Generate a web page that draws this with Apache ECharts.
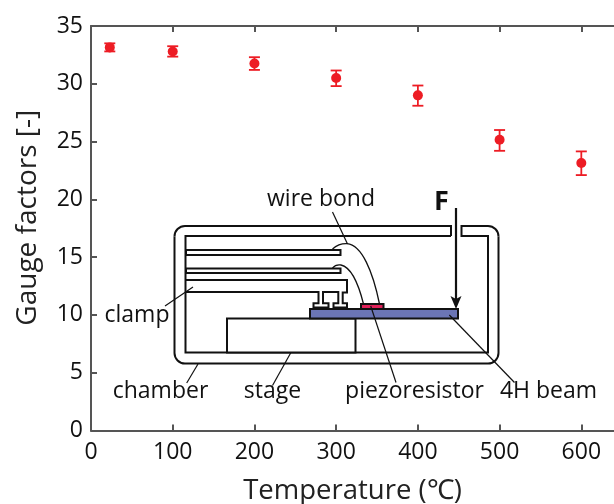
<!DOCTYPE html>
<html><head><meta charset="utf-8">
<style>html,body{margin:0;padding:0;background:#fff}#c{width:614px;height:504px}</style>
<script src="https://cdn.jsdelivr.net/npm/echarts@6/dist/echarts.min.js"></script>
</head><body><div id="c"></div>
<script>
const temperature = [23, 100, 200, 300, 400, 500, 600];
const gaugeFactor = [33.15, 32.8, 31.75, 30.5, 29.0, 25.15, 23.15];
const errorLow = [32.8, 32.35, 31.2, 29.8, 28.1, 24.2, 22.1];
const errorHigh = [33.5, 33.25, 32.3, 31.15, 29.85, 26.0, 24.15];
const xTicks = [0, 100, 200, 300, 400, 500, 600];
const yTicks = [0, 5, 10, 15, 20, 25, 30, 35];
const FONT = '"Open Sans"';
const RED = '#ed1c24', AXIS = '#555', INK = '#111';

const chart = echarts.init(document.getElementById('c'), null, {renderer: 'canvas'});
const axisLine = {show: true, onZero: false, lineStyle: {color: AXIS, width: 2}};
const inTick = {show: true, inside: true, length: 6, lineStyle: {color: AXIS, width: 2}, customValues: xTicks};

function line(pts, w, col) {
  return {type: 'polyline', z: 10, shape: {points: pts}, style: {fill: null, stroke: col || INK, lineWidth: w || 2}};
}
function box(x1, y1, x2, y2, fill, w) {
  return {type: 'rect', z: 11, shape: {x: x1, y: y1, width: x2 - x1, height: y2 - y1}, style: {fill: fill || '#fff', stroke: INK, lineWidth: w || 2}};
}
function bez(x1, y1, c1x, c1y, c2x, c2y, x2, y2, w) {
  return {type: 'bezierCurve', z: 10, shape: {x1, y1, x2, y2, cpx1: c1x, cpy1: c1y, cpx2: c2x, cpy2: c2y}, style: {fill: null, stroke: INK, lineWidth: w || 1.3}};
}
function corner(cx, cy, start) {
  return {type: 'arc', z: 10, shape: {cx, cy, r: 10.5, startAngle: start, endAngle: start + Math.PI / 2, clockwise: true}, style: {fill: null, stroke: INK, lineWidth: 2}};
}
function label(t, x, y, size, weight) {
  return {type: 'text', z: 12, x: x, y: y, style: {text: t, font: (weight || 'normal') + ' ' + (size || 23) + 'px ' + FONT, fill: INK, align: 'center', verticalAlign: 'middle'}};
}
const diagramParts = [
  // chamber walls
  line([[451, 236], [451, 226], [185, 226]], 2),
  corner(185, 236.5, Math.PI),
  line([[174.5, 236.5], [174.5, 353]], 2),
  corner(185, 353, Math.PI / 2),
  line([[185, 363.5], [488, 363.5]], 2),
  corner(488, 353, 0),
  line([[498.5, 353], [498.5, 236.5]], 2),
  corner(488, 236.5, -Math.PI / 2),
  line([[488, 226], [461.5, 226], [461.5, 236], [488, 236], [488, 352.5], [185.5, 352.5], [185.5, 236], [451, 236]], 2),
  // clamp fingers
  box(186, 250, 340.5, 255, '#fff', 2),
  box(186, 268.5, 340.5, 273, '#fff', 2),
  line([[186, 280], [347, 280], [347, 292.5], [342.7, 292.5], [342.7, 303.3], [347, 303.3], [347, 307.5], [333.5, 307.5], [333.5, 303.3], [338.3, 303.3], [338.3, 292], [323, 292], [323, 303.3], [328.5, 303.3], [328.5, 307.5], [313.5, 307.5], [313.5, 303.3], [318.5, 303.3], [318.5, 292], [186, 292]], 2),
  // stage, beam, piezoresistor
  box(227, 318.5, 355.5, 352.5, '#fff', 2),
  box(310, 309, 458, 318.5, '#6b75b5', 2),
  box(361, 304, 383.5, 309, '#e0225a', 2),
  // wire bonds
  bez(332.5, 249, 337, 245, 342, 243.5, 347, 243.7),
  bez(347, 243.7, 362, 245, 373, 272, 379.5, 304),
  bez(332.5, 268, 335, 265, 338, 264.5, 341, 265),
  bez(341, 265, 350, 267, 358, 282, 363.5, 304),
  // leader lines
  line([[332.5, 212], [347.5, 244]], 1.2),
  line([[165, 306], [193, 287]], 1.2),
  line([[186.7, 383], [198, 364]], 1.2),
  line([[272.5, 385.5], [294, 347]], 1.2),
  {...line([[370.7, 306], [396, 382.5]], 1.2), z: 14},
  {...line([[449.3, 315], [514.5, 382.5]], 1.2), z: 14},
  // force arrow
  line([[456, 208], [456, 302]], 2.2),
  {type: 'polygon', z: 13, shape: {points: [[450.5, 296], [456, 299], [461.5, 296], [456, 309]]}, style: {fill: INK}},
  // labels
  label('wire bond', 321, 199),
  label('F', 441.5, 202, 27, 'bold'),
  label('clamp', 137, 315),
  label('chamber', 160.5, 391),
  label('stage', 272.5, 391),
  label('piezoresistor', 414.5, 391),
  label('4H beam', 548.5, 391)
];

chart.setOption({
  animation: false,
  backgroundColor: '#fff',
  grid: {left: 91, right: 0, top: 26, bottom: 73.5, containLabel: false, outerBoundsMode: 'none'},
  xAxis: [{
    type: 'value', position: 'bottom', min: 0, max: 640, interval: 100,
    name: 'Temperature (℃)', nameLocation: 'middle', nameGap: 47,
    nameTextStyle: {fontFamily: FONT, fontSize: 27.5, color: '#222'},
    axisLine, axisTick: inTick, splitLine: {show: false},
    axisLabel: {customValues: xTicks, fontFamily: FONT, fontSize: 23, color: INK, margin: 10, formatter: v => String(v)}
  }, {
    type: 'value', position: 'top', min: 0, max: 640, interval: 100,
    axisLine, axisTick: inTick, splitLine: {show: false}, axisLabel: {show: false}
  }],
  yAxis: {
    type: 'value', min: 0, max: 35, interval: 5,
    name: 'Gauge factors [-]', nameLocation: 'middle', nameGap: 49, nameRotate: 90,
    nameTextStyle: {fontFamily: FONT, fontSize: 28, color: '#222', padding: [0, 0, 0, 21]},
    axisLine, axisTick: {show: true, inside: true, length: 6, lineStyle: {color: AXIS, width: 2}},
    splitLine: {show: false},
    axisLabel: {customValues: yTicks, fontFamily: FONT, fontSize: 23, color: INK, margin: 8, formatter: v => String(v)}
  },
  series: [{
    type: 'custom',
    clip: false,
    data: temperature.map((t, i) => [t, gaugeFactor[i], errorLow[i], errorHigh[i]]),
    encode: {x: 0, y: [1, 2, 3]},
    renderItem(params, api) {
      const c = api.coord([api.value(0), api.value(1)]);
      const lo = api.coord([api.value(0), api.value(2)]);
      const hi = api.coord([api.value(0), api.value(3)]);
      const st = {stroke: RED, lineWidth: 1.8, fill: null};
      const seg = (x1, y1, x2, y2) => ({type: 'line', shape: {x1, y1, x2, y2}, style: st});
      return {type: 'group', children: [
        seg(lo[0], lo[1], hi[0], hi[1]),
        seg(lo[0] - 5.5, lo[1], lo[0] + 5.5, lo[1]),
        seg(hi[0] - 5.5, hi[1], hi[0] + 5.5, hi[1]),
        {type: 'circle', shape: {cx: c[0], cy: c[1], r: 5}, style: {fill: RED}}
      ]};
    }
  }],
  graphic: {elements: diagramParts}
});
</script></body></html>
